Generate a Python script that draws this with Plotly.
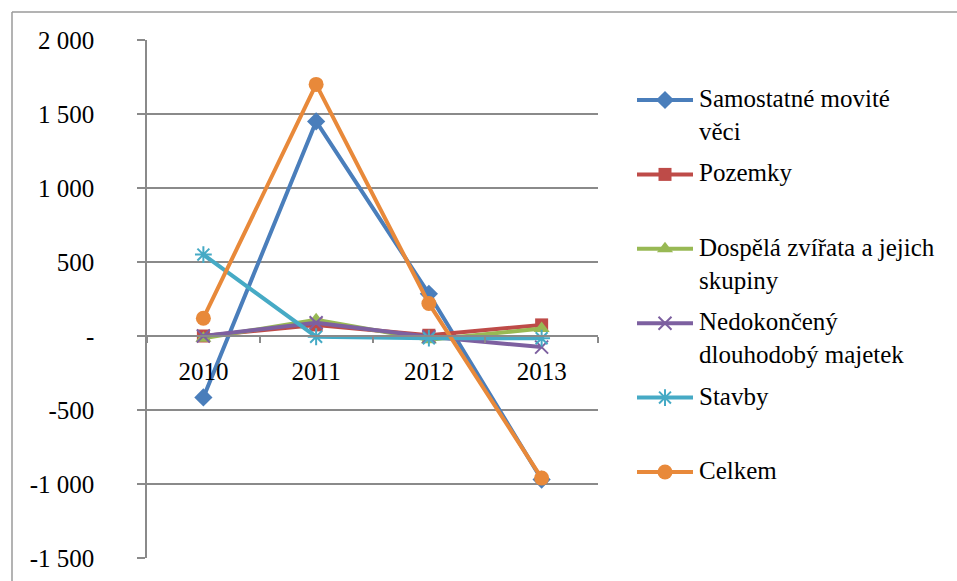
import plotly.graph_objects as go

# Roky a změny hodnoty majetku podle skupin
years = ["2010", "2011", "2012", "2013"]
samostatne = [-415, 1450, 285, -970]
pozemky = [0, 75, 5, 75]
dospela = [-15, 110, -25, 50]
nedokonceny = [0, 90, -5, -75]
stavby = [550, -5, -15, -15]
celkem = [120, 1700, 220, -960]

names = [
    "Samostatné movité<br>věci",
    "Pozemky",
    "Dospělá zvířata a jejich<br>skupiny",
    "Nedokončený<br>dlouhodobý majetek",
    "Stavby",
    "Celkem",
]
series = [samostatne, pozemky, dospela, nedokonceny, stavby, celkem]
colors = ["#4A7EBB", "#BE4B48", "#98B954", "#7D60A0", "#46AAC5", "#E8893A"]
symbols = ["diamond", "square", "triangle-up", "x-thin-open", "asterisk-open", "circle"]
msizes = [14, 13, 14, 13, 14, 15]

y_ticks = [2000, 1500, 1000, 500, 0, -500, -1000, -1500]
y_text = ["2 000", "1 500", "1 000", "500", "-", "-500", "-1 000", "-1 500"]

FONT = "Liberation Serif"
GRID = "#8a8a8a"

W, H = 957, 581
L, T, B = 147, 40, 23
PLOT_W = 451
AREA_W = W - L
split = PLOT_W / AREA_W

fig = go.Figure()
for nm, vals, col, sym, ms in zip(names, series, colors, symbols, msizes):
    open_marker = sym.endswith("open")
    fig.add_trace(go.Scatter(
        x=years, y=vals, name=nm.replace("<br>", " "), mode="lines+markers",
        line=dict(color=col, width=4),
        marker=dict(symbol=sym, size=ms, color=col,
                    line=dict(color=col, width=2 if open_marker else 0)),
        showlegend=False,
    ))

# Legenda vedle grafu na pomocných osách v pixelových jednotkách
row0, row_step = 100, 74.4
line_x0, line_x1, text_x = 637, 693, 697
rows = [row0 + i * row_step for i in range(len(names))]
for nm, col, sym, ms, ry in zip(names, colors, symbols, msizes, rows):
    open_marker = sym.endswith("open")
    fig.add_trace(go.Scatter(
        x=[line_x0, line_x1], y=[ry, ry], xaxis="x2", yaxis="y2",
        mode="lines", hoverinfo="skip", showlegend=False,
        line=dict(color=col, width=4),
    ))
    fig.add_trace(go.Scatter(
        x=[(line_x0 + line_x1) / 2], y=[ry], xaxis="x2", yaxis="y2",
        mode="markers", hoverinfo="skip", showlegend=False,
        marker=dict(symbol=sym, size=ms, color=col,
                    line=dict(color=col, width=2 if open_marker else 0)),
    ))
    fig.add_annotation(
        xref="x2", yref="y2", x=text_x, y=ry - 17,
        xanchor="left", yanchor="top", align="left", showarrow=False,
        text=nm, font=dict(family=FONT, size=25, color="black"),
    )

y_min, y_max = -1500, 2000
fig.update_layout(
    width=W, height=H,
    margin=dict(l=L, r=0, t=T, b=B),
    paper_bgcolor="white", plot_bgcolor="white",
    showlegend=False,
    xaxis=dict(
        domain=[0, split],
        type="category", range=[-0.5, 3.5],
        anchor="free", position=(0 - y_min) / (y_max - y_min),
        showline=True, linecolor=GRID, linewidth=1.5,
        ticks="outside", ticklen=6, tickcolor=GRID, tickwidth=1.5,
        tickson="boundaries", showgrid=False, zeroline=False,
        ticklabelstandoff=13,
        tickfont=dict(family=FONT, size=25, color="black"),
    ),
    yaxis=dict(
        range=[y_min, y_max], tickvals=y_ticks, ticktext=y_text,
        showline=True, linecolor=GRID, linewidth=1.5,
        ticks="outside", ticklen=8, tickcolor=GRID, tickwidth=1.5,
        showgrid=True, gridcolor=GRID, gridwidth=1.5, zeroline=False,
        ticklabelstandoff=38,
        tickfont=dict(family=FONT, size=25, color="black"),
    ),
    xaxis2=dict(domain=[split, 1], range=[L + PLOT_W, W], visible=False,
                anchor="y2", fixedrange=True),
    yaxis2=dict(domain=[0, 1], range=[H - B, T], visible=False,
                anchor="x2", fixedrange=True),
)

# Rámeček kolem grafu (horní a levá hrana)
frame = dict(color="#9a9a9a", width=1.5)
top_y = (H - B - 12) / (H - T - B)
left_x = (12 - L) / AREA_W
fig.add_shape(type="line", xref="paper", yref="paper",
              x0=left_x, x1=1.02, y0=top_y, y1=top_y, line=frame)
fig.add_shape(type="line", xref="paper", yref="paper",
              x0=left_x, x1=left_x, y0=-0.1, y1=top_y, line=frame)

fig.write_html("out.html")
